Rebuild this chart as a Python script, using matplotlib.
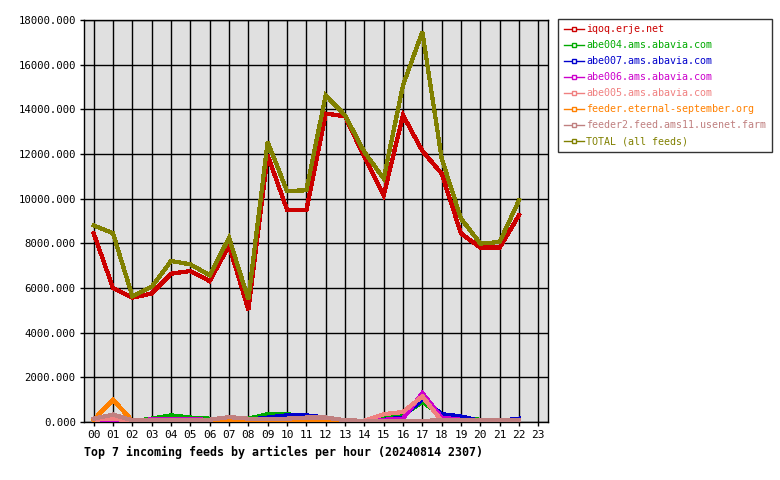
import matplotlib
matplotlib.use("Agg")
import matplotlib.pyplot as plt
from matplotlib.lines import Line2D

hours = list(range(23))
hour_labels = [f"{h:02d}" for h in range(24)]

iqoq = [8450, 6000, 5570, 5750, 6640, 6760, 6310, 7900, 5030, 11940, 9510, 9480,
        13810, 13690, 11870, 10150, 13735, 12140, 11120, 8440, 7810, 7810, 9260]
abe004 = [50, 50, 30, 150, 300, 200, 150, 150, 150, 350, 350, 250,
          100, 50, 50, 150, 300, 900, 300, 200, 100, 50, 50]
abe007 = [150, 150, 30, 50, 50, 50, 50, 80, 100, 200, 300, 300,
          200, 50, 50, 100, 200, 1050, 350, 250, 50, 50, 150]
abe006 = [0, 50, 50, 120, 120, 120, 100, 100, 100, 100, 150, 150,
          150, 50, 50, 100, 150, 1300, 200, 100, 50, 50, 50]
abe005 = [100, 150, 50, 50, 50, 50, 50, 80, 80, 80, 100, 100,
          150, 50, 50, 350, 450, 1150, 50, 20, 20, 20, 20]
feeder_es = [100, 1000, 50, 20, 90, 30, 30, 50, 20, 20, 20, 20,
             50, 20, 20, 20, 20, 20, 20, 20, 0, 0, 0]
feeder2 = [150, 330, 80, 100, 100, 100, 100, 220, 150, 150, 150, 200,
           200, 80, 50, 50, 50, 50, 80, 100, 100, 100, 100]
total = [8800, 8450, 5630, 6050, 7210, 7060, 6570, 8250, 5500, 12540, 10345, 10375,
         14630, 13730, 12090, 10900, 15080, 17465, 11800, 9110, 7990, 8060, 9930]

series = [
    ("iqoq.erje.net", iqoq, "#cc0000"),
    ("abe004.ams.abavia.com", abe004, "#00aa00"),
    ("abe007.ams.abavia.com", abe007, "#0000cc"),
    ("abe006.ams.abavia.com", abe006, "#cc00cc"),
    ("abe005.ams.abavia.com", abe005, "#f08080"),
    ("feeder.eternal-september.org", feeder_es, "#ff8000"),
    ("feeder2.feed.ams11.usenet.farm", feeder2, "#c08080"),
    ("TOTAL (all feeds)", total, "#808000"),
]

plt.rcParams['font.family'] = ['DejaVu Sans Mono']
fig = plt.figure(figsize=(7.8, 4.8), dpi=100)
ax = fig.add_axes([84/780, 1 - 422/480, 464/780, 402/480])
ax.set_facecolor("#e0e0e0")

for name, vals, col in series:
    ax.plot(hours, vals, color=col, lw=2.3, solid_joinstyle='miter', antialiased=False, zorder=3)

ax.set_xlim(-0.5, 23.5)
ax.set_ylim(0, 18000)
ax.set_xticks(range(24))
ax.set_xticklabels(hour_labels, fontsize=8)
yt = list(range(0, 18001, 2000))
ax.set_yticks(yt)
ax.set_yticklabels([f"{v}.000" for v in yt], fontsize=7.7)
ax.grid(True, color="black", lw=1, zorder=1)
ax.set_axisbelow(True)
ax.tick_params(length=3, width=1, color="black", pad=3)
for s in ax.spines.values():
    s.set_color("black")
    s.set_linewidth(1)

fig.text(84/780, 1 - 452/480, "Top 7 incoming feeds by articles per hour (20240814 2307)",
         fontsize=8.4, fontweight="bold", ha="left", va="center")

handles = [Line2D([0], [0], color=col, lw=1, marker='s', markersize=3,
                  markerfacecolor='white', markeredgecolor=col)
           for _, _, col in series]
leg = fig.legend(handles, [s[0] for s in series], loc="upper left",
                 bbox_to_anchor=(558/780, 1 - 19/480), fontsize=7.2,
                 frameon=True, fancybox=False, handlelength=2.0, handletextpad=0.3,
                 labelspacing=0.6, borderpad=0.55, borderaxespad=0)
leg.get_frame().set_edgecolor("black")
leg.get_frame().set_linewidth(1)
for t, (_, _, col) in zip(leg.get_texts(), series):
    t.set_color(col)

fig.savefig("out.png", dpi=100)
